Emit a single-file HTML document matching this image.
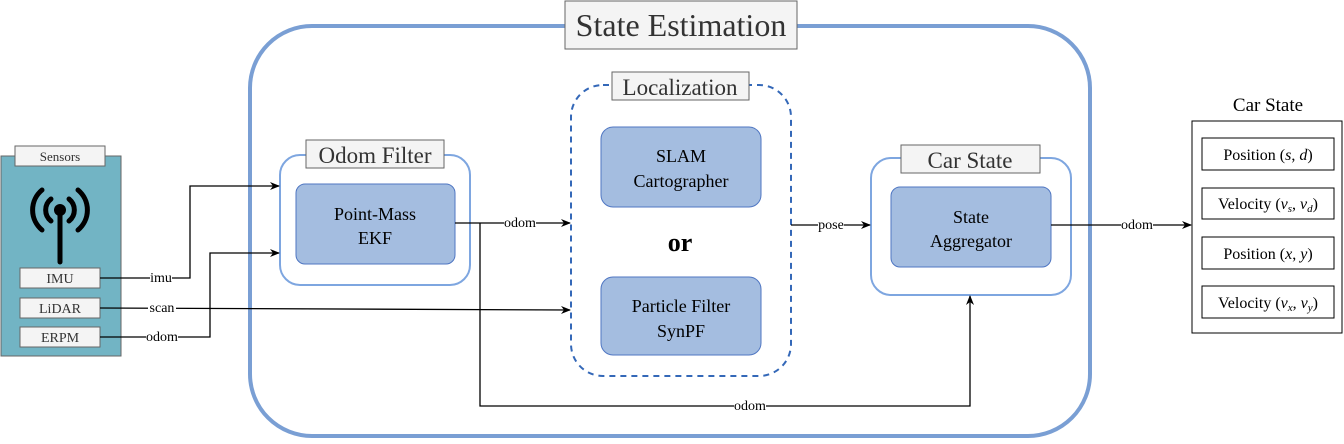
<!DOCTYPE html>
<html><head><meta charset="utf-8"><style>
html,body{margin:0;padding:0;background:#fff;}
svg, svg text{font-family:"Liberation Serif","Times New Roman",Times,serif;}
</style></head><body>
<svg width="1344" height="439" viewBox="0 0 1344 439" xmlns="http://www.w3.org/2000/svg" font-family="Liberation Serif, Times New Roman, serif">
<defs><marker id="a" markerWidth="10" markerHeight="8" refX="9" refY="4" orient="auto" markerUnits="userSpaceOnUse"><path d="M0,0 L10,4 L0,8 L3,4 z" fill="#000"/></marker></defs>
<rect x="250" y="26" width="840" height="410" rx="62" fill="none" stroke="#7a9fd4" stroke-width="4"/>
<rect x="565" y="1" width="232" height="48" fill="#f4f4f4" stroke="#666"/>
<text x="681" y="36" font-size="32" text-anchor="middle" fill="#333">State Estimation</text>
<rect x="1" y="156" width="120" height="200" fill="#72b4c4" stroke="#666"/>
<rect x="15" y="146" width="90" height="20" fill="#f4f4f4" stroke="#666"/>
<text x="60" y="161" font-size="13" text-anchor="middle" fill="#333">Sensors</text>
<g stroke="#000" stroke-width="5" fill="none" stroke-linecap="round">
<line x1="60" y1="210" x2="60" y2="262"/>
<path d="M51,199 A14,14 0 0 0 51,221"/><path d="M69,199 A14,14 0 0 1 69,221"/>
<path d="M42,190 A26,26 0 0 0 42,230"/><path d="M78,190 A26,26 0 0 1 78,230"/>
</g>
<circle cx="60" cy="210" r="6" fill="#000"/>
<g font-size="14" text-anchor="middle" fill="#333">
<rect x="20" y="268" width="80" height="20" fill="#f4f4f4" stroke="#666"/><text x="60" y="283">IMU</text>
<rect x="20" y="298" width="80" height="20" fill="#f4f4f4" stroke="#666"/><text x="60" y="313">LiDAR</text>
<rect x="20" y="327" width="80" height="20" fill="#f4f4f4" stroke="#666"/><text x="60" y="342">ERPM</text>
</g>
<rect x="280" y="155" width="190" height="130" rx="20" fill="#fff" stroke="#7ea6e0" stroke-width="2"/>
<rect x="306" y="140" width="138" height="28" fill="#f4f4f4" stroke="#666"/>
<text x="375" y="163" font-size="23" text-anchor="middle" fill="#333">Odom Filter</text>
<rect x="296" y="184" width="159" height="80" rx="9" fill="#a4bde0" stroke="#4f76c2"/>
<text x="375" y="220" font-size="18" text-anchor="middle">Point-Mass</text>
<text x="375" y="244" font-size="18" text-anchor="middle">EKF</text>
<rect x="571" y="85" width="220" height="291" rx="32" fill="none" stroke="#3468b8" stroke-width="2" stroke-dasharray="6,5"/>
<rect x="612" y="72" width="137" height="28" fill="#f4f4f4" stroke="#666"/>
<text x="680" y="95" font-size="23" text-anchor="middle" fill="#333">Localization</text>
<rect x="601" y="127" width="160" height="80" rx="12" fill="#a4bde0" stroke="#4f76c2"/>
<text x="681" y="162" font-size="18" text-anchor="middle">SLAM</text>
<text x="681" y="187" font-size="18" text-anchor="middle">Cartographer</text>
<text x="680" y="251" font-size="26" font-weight="bold" text-anchor="middle">or</text>
<rect x="601" y="277" width="160" height="78" rx="12" fill="#a4bde0" stroke="#4f76c2"/>
<text x="681" y="312" font-size="18" text-anchor="middle">Particle Filter</text>
<text x="681" y="337" font-size="18" text-anchor="middle">SynPF</text>
<rect x="871" y="158" width="200" height="137" rx="20" fill="#fff" stroke="#7ea6e0" stroke-width="2"/>
<rect x="901" y="145" width="139" height="28" fill="#f4f4f4" stroke="#666"/>
<text x="970" y="168" font-size="23" text-anchor="middle" fill="#333">Car State</text>
<rect x="891" y="187" width="160" height="80" rx="9" fill="#a4bde0" stroke="#4f76c2"/>
<text x="971" y="223" font-size="18" text-anchor="middle">State</text>
<text x="971" y="247" font-size="18" text-anchor="middle">Aggregator</text>
<text x="1268" y="111" font-size="19" text-anchor="middle">Car State</text>
<rect x="1192" y="121" width="150" height="212" fill="#fff" stroke="#000"/>
<g font-size="16" text-anchor="middle" fill="#000">
<rect x="1202" y="138" width="132" height="32" fill="#fff" stroke="#000"/><text x="1268" y="160">Position (<tspan font-style="italic">s</tspan>, <tspan font-style="italic">d</tspan>)</text>
<rect x="1202" y="188" width="132" height="31" fill="#fff" stroke="#000"/><text x="1268" y="209">Velocity (<tspan font-style="italic">v<tspan font-size="11" dy="3">s</tspan></tspan><tspan dy="-3">, </tspan><tspan font-style="italic">v<tspan font-size="11" dy="3">d</tspan></tspan><tspan dy="-3">)</tspan></text>
<rect x="1202" y="237" width="132" height="32" fill="#fff" stroke="#000"/><text x="1268" y="259">Position (<tspan font-style="italic">x</tspan>, <tspan font-style="italic">y</tspan>)</text>
<rect x="1202" y="286" width="132" height="32" fill="#fff" stroke="#000"/><text x="1268" y="308">Velocity (<tspan font-style="italic">v<tspan font-size="11" dy="3">x</tspan></tspan><tspan dy="-3">, </tspan><tspan font-style="italic">v<tspan font-size="11" dy="3">y</tspan></tspan><tspan dy="-3">)</tspan></text>
</g>
<g stroke="#000" stroke-width="1.3" fill="none">
<polyline points="100,278 190,278 190,186 279,186" marker-end="url(#a)"/>
<polyline points="100,337 210,337 210,253 279,253" marker-end="url(#a)"/>
<polyline points="100,308 570,310" marker-end="url(#a)"/>
<polyline points="455,223 570,223" marker-end="url(#a)"/>
<polyline points="480,223 480,406 970,406 970,296" marker-end="url(#a)"/>
<polyline points="791,225 870,225" marker-end="url(#a)"/>
<polyline points="1051,225 1191,225" marker-end="url(#a)"/>
</g>
<g font-size="14" text-anchor="middle" fill="#000">
<rect x="150" y="271" width="22" height="14" fill="#fff"/><text x="161" y="282">imu</text>
<rect x="148" y="301" width="28" height="14" fill="#fff"/><text x="162" y="312">scan</text>
<rect x="146" y="330" width="32" height="14" fill="#fff"/><text x="162" y="341">odom</text>
<rect x="504" y="216" width="32" height="14" fill="#fff"/><text x="520" y="227">odom</text>
<rect x="734" y="399" width="32" height="14" fill="#fff"/><text x="750" y="410">odom</text>
<rect x="818" y="218" width="26" height="14" fill="#fff"/><text x="831" y="229">pose</text>
<rect x="1121" y="218" width="32" height="14" fill="#fff"/><text x="1137" y="229">odom</text>
</g>
</svg>
</body></html>
